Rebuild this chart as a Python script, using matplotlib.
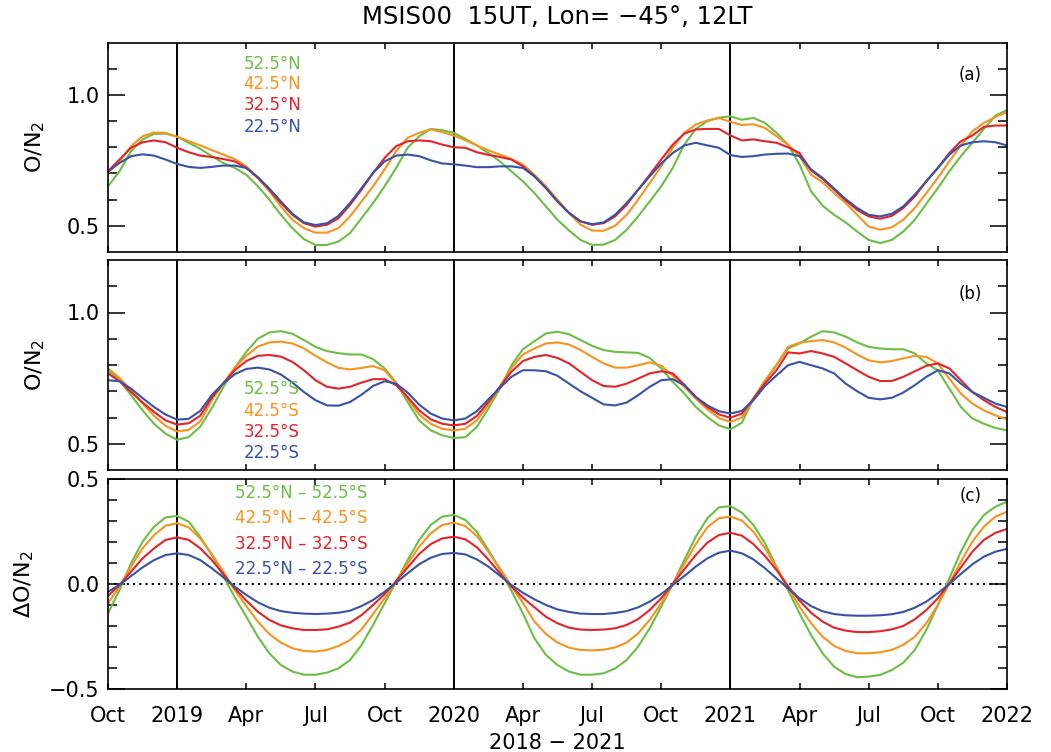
import matplotlib.pyplot as plt
import numpy as np

# months since 1 Oct 2018, sampled every half month
months = np.arange(0, 39.01, 0.5)

# panel (a): O/N2, northern latitudes
n52 = [0.651, 0.708, 0.785, 0.83, 0.851, 0.852, 0.84, 0.817, 0.794, 0.766,
       0.74, 0.721, 0.695, 0.651, 0.6, 0.542, 0.491, 0.449, 0.427, 0.427,
       0.44, 0.472, 0.529, 0.587, 0.651, 0.721, 0.798, 0.842, 0.87, 0.865,
       0.855, 0.832, 0.807, 0.778, 0.746, 0.708, 0.67, 0.625, 0.574, 0.523,
       0.482, 0.446, 0.427, 0.428, 0.446, 0.485, 0.536, 0.593, 0.651, 0.721,
       0.81, 0.87, 0.9, 0.913, 0.918, 0.905, 0.912, 0.893, 0.855, 0.81,
       0.734, 0.632, 0.577, 0.542, 0.513, 0.478, 0.446, 0.434, 0.446, 0.478,
       0.523, 0.584, 0.644, 0.708, 0.766, 0.817, 0.87, 0.921, 0.942]
n42 = [0.702, 0.746, 0.804, 0.842, 0.856, 0.855, 0.84, 0.823, 0.807, 0.789,
       0.772, 0.755, 0.727, 0.683, 0.632, 0.574, 0.523, 0.491, 0.474, 0.474,
       0.491, 0.536, 0.593, 0.651, 0.715, 0.785, 0.836, 0.855, 0.868, 0.858,
       0.845, 0.827, 0.807, 0.788, 0.772, 0.755, 0.734, 0.695, 0.651, 0.6,
       0.549, 0.504, 0.482, 0.481, 0.5, 0.542, 0.6, 0.663, 0.727, 0.798,
       0.855, 0.887, 0.902, 0.912, 0.897, 0.885, 0.888, 0.874, 0.842, 0.81,
       0.766, 0.695, 0.666, 0.625, 0.587, 0.542, 0.497, 0.485, 0.494, 0.523,
       0.568, 0.625, 0.683, 0.746, 0.807, 0.861, 0.893, 0.916, 0.934]
n32 = [0.708, 0.753, 0.798, 0.819, 0.826, 0.819, 0.798, 0.781, 0.768, 0.763,
       0.755, 0.746, 0.721, 0.683, 0.638, 0.587, 0.542, 0.51, 0.497, 0.504,
       0.529, 0.58, 0.638, 0.702, 0.759, 0.804, 0.823, 0.826, 0.823, 0.81,
       0.8, 0.798, 0.781, 0.771, 0.763, 0.753, 0.727, 0.689, 0.644, 0.593,
       0.549, 0.517, 0.504, 0.51, 0.536, 0.58, 0.638, 0.695, 0.753, 0.81,
       0.852, 0.868, 0.87, 0.87, 0.845, 0.826, 0.83, 0.823, 0.817, 0.8,
       0.778, 0.712, 0.679, 0.638, 0.597, 0.561, 0.536, 0.527, 0.538, 0.568,
       0.612, 0.67, 0.721, 0.778, 0.823, 0.845, 0.878, 0.883, 0.883]
n22 = [0.708, 0.74, 0.766, 0.773, 0.768, 0.753, 0.736, 0.725, 0.721, 0.725,
       0.73, 0.73, 0.721, 0.686, 0.642, 0.593, 0.546, 0.513, 0.503, 0.51,
       0.538, 0.587, 0.644, 0.702, 0.746, 0.768, 0.772, 0.766, 0.75, 0.738,
       0.735, 0.73, 0.724, 0.724, 0.727, 0.727, 0.721, 0.689, 0.644, 0.593,
       0.549, 0.517, 0.506, 0.513, 0.542, 0.587, 0.638, 0.689, 0.738, 0.778,
       0.807, 0.817, 0.807, 0.798, 0.77, 0.763, 0.766, 0.772, 0.775, 0.776,
       0.766, 0.715, 0.683, 0.642, 0.602, 0.568, 0.542, 0.536, 0.546, 0.574,
       0.619, 0.67, 0.721, 0.772, 0.807, 0.819, 0.823, 0.819, 0.807]

# panel (b): O/N2, southern latitudes
s52 = [0.78, 0.742, 0.685, 0.627, 0.576, 0.538, 0.515, 0.525, 0.565, 0.635,
       0.715, 0.79, 0.85, 0.9, 0.924, 0.929, 0.919, 0.895, 0.869, 0.853,
       0.845, 0.84, 0.84, 0.822, 0.787, 0.733, 0.659, 0.589, 0.551, 0.532,
       0.522, 0.525, 0.564, 0.634, 0.71, 0.799, 0.86,
       0.891, 0.92, 0.927, 0.917, 0.895, 0.873, 0.857, 0.85, 0.848, 0.846,
       0.827, 0.787, 0.736, 0.691, 0.64, 0.602, 0.57, 0.555, 0.58, 0.672,
       0.74, 0.8, 0.863, 0.882, 0.908, 0.929, 0.924, 0.908, 0.886, 0.869,
       0.863, 0.86, 0.86, 0.844, 0.806, 0.78, 0.71, 0.64, 0.596, 0.576,
       0.56, 0.551]
s42 = [0.787, 0.751, 0.704, 0.653, 0.606, 0.568, 0.547, 0.553, 0.585, 0.665,
       0.73, 0.79, 0.835, 0.87, 0.886, 0.889, 0.882, 0.863, 0.835, 0.81,
       0.789, 0.783, 0.789, 0.796, 0.78, 0.729, 0.672, 0.611, 0.576, 0.557,
       0.551, 0.557, 0.589, 0.649, 0.717, 0.789, 0.84,
       0.863, 0.882, 0.886, 0.878, 0.857, 0.831, 0.806, 0.79, 0.79, 0.799,
       0.81, 0.797, 0.759, 0.717, 0.672, 0.631, 0.598, 0.583, 0.6, 0.672,
       0.74, 0.8, 0.869, 0.885, 0.891, 0.895, 0.886, 0.866, 0.84, 0.818,
       0.81, 0.815, 0.825, 0.835, 0.831, 0.806, 0.748, 0.691, 0.653, 0.627,
       0.608, 0.593]
s32 = [0.768, 0.738, 0.697, 0.657, 0.621, 0.589, 0.573, 0.578, 0.607, 0.675,
       0.73, 0.78, 0.815, 0.835, 0.838, 0.832, 0.812, 0.78, 0.742, 0.717,
       0.71, 0.717, 0.733, 0.746, 0.746, 0.723, 0.678, 0.627, 0.593, 0.576,
       0.57, 0.576, 0.606, 0.659, 0.717, 0.774, 0.815,
       0.831, 0.838, 0.827, 0.806, 0.774, 0.742, 0.72, 0.717, 0.729, 0.748,
       0.768, 0.776, 0.768, 0.725, 0.678, 0.64, 0.612, 0.599, 0.615, 0.672,
       0.73, 0.78, 0.848, 0.844, 0.853, 0.844, 0.831, 0.806, 0.78, 0.755,
       0.739, 0.739, 0.755, 0.776, 0.797, 0.806, 0.787, 0.742, 0.697, 0.666,
       0.64, 0.621]
s22 = [0.742, 0.738, 0.71, 0.674, 0.64, 0.611, 0.592, 0.595, 0.625, 0.685,
       0.73, 0.765, 0.785, 0.79, 0.783, 0.764, 0.733, 0.697, 0.666, 0.646,
       0.645, 0.659, 0.687, 0.72, 0.738, 0.729, 0.695, 0.649, 0.615, 0.596,
       0.589, 0.596, 0.624, 0.669, 0.713, 0.755, 0.78,
       0.78, 0.776, 0.759, 0.729, 0.7, 0.675, 0.65, 0.646, 0.657, 0.685,
       0.717, 0.742, 0.746, 0.723, 0.678, 0.646, 0.624, 0.615, 0.625, 0.666,
       0.72, 0.76, 0.799, 0.812, 0.799, 0.787, 0.768, 0.729, 0.7, 0.675,
       0.669, 0.675, 0.695, 0.723, 0.755, 0.78, 0.768, 0.729, 0.697, 0.675,
       0.653, 0.64]

# panel (c): north minus south
d52 = [-0.14, -0.029, 0.098, 0.202, 0.273, 0.317, 0.324, 0.297, 0.225, 0.138,
       0.038, -0.063, -0.156, -0.251, -0.33, -0.386, -0.417, -0.432, -0.432, -0.422,
       -0.402, -0.362, -0.29, -0.195, -0.092, 0.011, 0.114, 0.21, 0.281, 0.321,
       0.329, 0.305, 0.249, 0.162, 0.067, -0.032, -0.14,
       -0.259, -0.338, -0.386, -0.417, -0.432, -0.432, -0.425, -0.402, -0.362, -0.298,
       -0.211, -0.108, 0.0, 0.114, 0.225, 0.313, 0.365, 0.371, 0.34, 0.281,
       0.194, 0.083, -0.029, -0.14, -0.243, -0.33, -0.394, -0.429, -0.444, -0.441,
       -0.433, -0.41, -0.375, -0.314, -0.219, -0.1, 0.027, 0.154, 0.257, 0.329,
       0.368, 0.392]
d42 = [-0.092, -0.013, 0.083, 0.17, 0.233, 0.278, 0.289, 0.27, 0.217, 0.143,
       0.059, -0.029, -0.105, -0.179, -0.238, -0.279, -0.306, -0.319, -0.322, -0.314,
       -0.295, -0.267, -0.216, -0.143, -0.068, 0.011, 0.098, 0.178, 0.241, 0.281,
       0.292, 0.276, 0.229, 0.154, 0.075, -0.01, -0.09,
       -0.179, -0.238, -0.279, -0.303, -0.314, -0.316, -0.313, -0.302, -0.279, -0.235,
       -0.171, -0.092, 0.0, 0.095, 0.19, 0.27, 0.313, 0.321, 0.302, 0.249,
       0.17, 0.079, -0.016, -0.108, -0.187, -0.251, -0.295, -0.319, -0.33, -0.33,
       -0.325, -0.314, -0.29, -0.251, -0.187, -0.1, 0.003, 0.106, 0.202, 0.273,
       0.321, 0.344]
d32 = [-0.057, -0.005, 0.059, 0.122, 0.17, 0.21, 0.222, 0.21, 0.17, 0.114,
       0.048, -0.021, -0.079, -0.132, -0.171, -0.197, -0.211, -0.219, -0.219, -0.216,
       -0.203, -0.184, -0.148, -0.1, -0.048, 0.014, 0.079, 0.143, 0.19, 0.217,
       0.225, 0.213, 0.175, 0.117, 0.051, -0.013, -0.065,
       -0.111, -0.156, -0.187, -0.208, -0.217, -0.219, -0.217, -0.211, -0.195, -0.167,
       -0.124, -0.068, 0.0, 0.07, 0.138, 0.197, 0.233, 0.244, 0.23, 0.19,
       0.133, 0.067, -0.01, -0.079, -0.137, -0.179, -0.208, -0.222, -0.229, -0.229,
       -0.225, -0.216, -0.2, -0.168, -0.124, -0.068, 0.003, 0.079, 0.154, 0.21,
       0.244, 0.262]
d22 = [-0.037, -0.005, 0.038, 0.079, 0.114, 0.138, 0.146, 0.138, 0.114, 0.075,
       0.032, -0.013, -0.052, -0.087, -0.113, -0.129, -0.137, -0.141, -0.143, -0.141,
       -0.137, -0.127, -0.105, -0.076, -0.037, 0.006, 0.051, 0.094, 0.125, 0.143,
       0.148, 0.141, 0.117, 0.083, 0.04, -0.005, -0.042,
       -0.073, -0.1, -0.121, -0.133, -0.141, -0.143, -0.143, -0.138, -0.129, -0.111,
       -0.084, -0.048, -0.005, 0.038, 0.083, 0.122, 0.149, 0.159, 0.146, 0.117,
       0.075, 0.027, -0.021, -0.068, -0.105, -0.13, -0.143, -0.149, -0.151, -0.151,
       -0.149, -0.144, -0.133, -0.113, -0.084, -0.044, 0.0, 0.048, 0.094, 0.13,
       0.154, 0.167]

lat_n = ['52.5°N', '42.5°N', '32.5°N', '22.5°N']
lat_s = ['52.5°S', '42.5°S', '32.5°S', '22.5°S']
lat_d = ['52.5°N – 52.5°S', '42.5°N – 42.5°S', '32.5°N – 32.5°S', '22.5°N – 22.5°S']
colors = ['#6cbe45', '#f7931e', '#e5232a', '#3853a4']

tick_pos = list(range(0, 40, 3))
tick_lab = ['Oct', '2019', 'Apr', 'Jul', 'Oct', '2020', 'Apr', 'Jul', 'Oct',
            '2021', 'Apr', 'Jul', 'Oct', '2022']
year_lines = [3, 15, 27]

fig = plt.figure(figsize=(10.51, 7.52), dpi=100)
L, W = 108 / 1051, 899 / 1051


def box(top, bot):
    return [L, 1 - bot / 752, W, (bot - top) / 752]


ax_a = fig.add_axes(box(42.5, 252))
ax_b = fig.add_axes(box(260, 470))
ax_c = fig.add_axes(box(479, 689))


def style(ax, lims, major, minor):
    ax.set_xlim(0, 39)
    ax.set_ylim(*lims)
    ax.set_xticks(tick_pos)
    ax.set_yticks(major)
    ax.set_yticks(minor, minor=True)
    ax.tick_params(axis='y', which='major', direction='in', length=12, width=1.1,
                   left=True, right=True, labelsize=15, pad=6)
    ax.tick_params(axis='y', which='minor', direction='in', length=6.5, width=1.1,
                   left=True, right=True)
    ax.tick_params(axis='x', direction='in', length=4, width=1.1, top=True,
                   bottom=True, labelsize=15, pad=12)
    for s in ax.spines.values():
        s.set_linewidth(1.2)
    for yr in year_lines:
        ax.axvline(yr, color='k', lw=1.4, zorder=1)


style(ax_a, (0.4, 1.2), [0.5, 1.0], [0.6, 0.7, 0.8, 0.9, 1.1])
style(ax_b, (0.4, 1.2), [0.5, 1.0], [0.6, 0.7, 0.8, 0.9, 1.1])
style(ax_c, (-0.5, 0.5), [-0.5, 0.0, 0.5],
      [-0.4, -0.3, -0.2, -0.1, 0.1, 0.2, 0.3, 0.4])
ax_a.set_xticklabels([])
ax_b.set_xticklabels([])
ax_c.set_xticklabels(tick_lab)
ax_c.set_yticklabels(['−0.5', '0.0', '0.5'])

for ys, c in zip([n52, n42, n32, n22], colors):
    ax_a.plot(months, ys, color=c, lw=1.5, zorder=2)
for ys, c in zip([s52, s42, s32, s22], colors):
    ax_b.plot(months, ys, color=c, lw=1.5, zorder=2)
for ys, c in zip([d52, d42, d32, d22], colors):
    ax_c.plot(months, ys, color=c, lw=1.5, zorder=2)
ax_c.axhline(0, color='k', lw=1.5, ls=(0, (1, 2)), zorder=1)

# colored labels
for i, (t, c) in enumerate(zip(lat_n, colors)):
    ax_a.text(0.151, [0.897, 0.802, 0.702, 0.597][i], t, color=c, fontsize=12,
              transform=ax_a.transAxes, va='center')
for i, (t, c) in enumerate(zip(lat_s, colors)):
    ax_b.text(0.151, [0.388, 0.283, 0.183, 0.079][i], t, color=c, fontsize=12,
              transform=ax_b.transAxes, va='center')
for i, (t, c) in enumerate(zip(lat_d, colors)):
    ax_c.text(0.141, [0.933, 0.813, 0.692, 0.573][i], t, color=c, fontsize=12,
              transform=ax_c.transAxes, va='center')

ax_a.text(0.959, 0.845, '(a)', fontsize=12, transform=ax_a.transAxes, ha='center', va='center')
ax_b.text(0.959, 0.838, '(b)', fontsize=12, transform=ax_b.transAxes, ha='center', va='center')
ax_c.text(0.959, 0.919, '(c)', fontsize=12, transform=ax_c.transAxes, ha='center', va='center')

ax_a.set_ylabel('O/N$_2$', fontsize=16)
ax_b.set_ylabel('O/N$_2$', fontsize=16)
ax_c.set_ylabel('ΔO/N$_2$', fontsize=16)
ax_a.yaxis.set_label_coords(-0.068, 0.5)
ax_b.yaxis.set_label_coords(-0.068, 0.5)
ax_c.yaxis.set_label_coords(-0.08, 0.5)

fig.text(557 / 1051, 1 - 17 / 752, 'MSIS00  15UT, Lon= −45°, 12LT', fontsize=17.5,
         ha='center', va='center')
fig.text(557 / 1051, 1 - 743 / 752, '2018 − 2021', fontsize=15, ha='center', va='center')

fig.savefig('out.png', dpi=100)
